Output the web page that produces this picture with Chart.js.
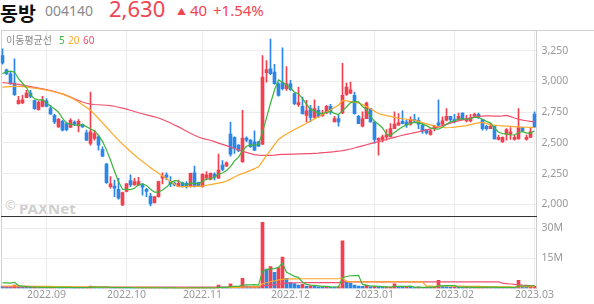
<!DOCTYPE html>
<html>
<head>
<meta charset="utf-8">
<script src="https://cdn.jsdelivr.net/npm/chart.js@4.4.0/dist/chart.umd.min.js"></script>
<style>
  body { margin: 0; width: 594px; height: 304px; overflow: hidden; background: #fff; position: relative; font-family: 'Noto Sans', 'Noto Sans CJK KR', sans-serif; }
  .t { position: absolute; white-space: nowrap; line-height: 1; }
  .line { position: absolute; }
  .box { position: absolute; left: 0; width: 594px; }
</style>
</head>
<body>
<div class="t" style="left:0;top:-2px;font:bold 19.5px 'Noto Sans CJK KR';color:#111">동방</div>
<div class="t" style="left:45px;top:4px;font-size:14px;color:#8a8a8a">004140</div>
<div class="t" style="left:109px;top:-3px;font-size:22px;color:#f04452">2,630</div>
<div class="t" style="left:177px;top:7px;font-size:9px;color:#f04452">▲</div>
<div class="t" style="left:190px;top:3px;font-size:15px;color:#f04452">40</div>
<div class="t" style="left:213px;top:3px;font-size:15px;color:#f04452">+1.54%</div>

<div class="line" style="left:1px;top:30px;width:593px;height:1px;background:#d0d0d0"></div>
<div class="line" style="left:1px;top:30px;width:1px;height:258px;background:#d0d0d0"></div>

<div class="t" style="left:5px;top:199px;font-size:13px;color:#cfcfcf">©</div>
<div class="t" style="left:19px;top:198px;font:bold 15px 'Noto Sans';color:#cfcfcf">PAXNet</div>

<div class="box" style="top:31px;height:185px"><canvas id="price" width="594" height="185"></canvas></div>
<div class="line" style="left:1px;top:216px;width:536px;height:1px;background:#333"></div>
<div class="box" style="top:217px;height:87px"><canvas id="volume" width="594" height="87"></canvas></div>

<div class="t" style="left:6px;top:35px;font-size:10px;font-family:'Noto Sans CJK KR';color:#8a8a8a">이동평균선</div>
<div class="t" style="left:59px;top:35px;font-size:10px;color:#3bb53b">5</div>
<div class="t" style="left:68px;top:35px;font-size:10px;color:#ffa726">20</div>
<div class="t" style="left:83px;top:35px;font-size:10px;color:#f0506e">60</div>

<script>
// 거래일
const dates = [
  '2022.08.17','2022.08.18','2022.08.19','2022.08.22','2022.08.23','2022.08.24','2022.08.25','2022.08.26','2022.08.29','2022.08.30','2022.08.31',
  '2022.09.01','2022.09.02','2022.09.05','2022.09.06','2022.09.07','2022.09.08','2022.09.13','2022.09.14','2022.09.15','2022.09.16',
  '2022.09.19','2022.09.20','2022.09.21','2022.09.22','2022.09.23','2022.09.26','2022.09.27','2022.09.28','2022.09.29','2022.09.30',
  '2022.10.04','2022.10.05','2022.10.06','2022.10.07','2022.10.11','2022.10.12','2022.10.13','2022.10.14','2022.10.17','2022.10.18',
  '2022.10.19','2022.10.20','2022.10.21','2022.10.24','2022.10.25','2022.10.26','2022.10.27','2022.10.28','2022.10.31',
  '2022.11.01','2022.11.02','2022.11.03','2022.11.04','2022.11.07','2022.11.08','2022.11.09','2022.11.10','2022.11.11','2022.11.14',
  '2022.11.15','2022.11.16','2022.11.17','2022.11.18','2022.11.21','2022.11.22','2022.11.23','2022.11.24','2022.11.25','2022.11.28',
  '2022.11.29','2022.11.30',
  '2022.12.01','2022.12.02','2022.12.05','2022.12.06','2022.12.07','2022.12.08','2022.12.09','2022.12.12','2022.12.13','2022.12.14',
  '2022.12.15','2022.12.16','2022.12.19','2022.12.20','2022.12.21','2022.12.22','2022.12.23','2022.12.26','2022.12.27','2022.12.28',
  '2022.12.29',
  '2023.01.02','2023.01.03','2023.01.04','2023.01.05','2023.01.06','2023.01.09','2023.01.10','2023.01.11','2023.01.12','2023.01.13',
  '2023.01.16','2023.01.17','2023.01.18','2023.01.19','2023.01.20','2023.01.25','2023.01.26','2023.01.27','2023.01.30','2023.01.31',
  '2023.02.01','2023.02.02','2023.02.03','2023.02.06','2023.02.07','2023.02.08','2023.02.09','2023.02.10','2023.02.13','2023.02.14',
  '2023.02.15','2023.02.16','2023.02.17','2023.02.20','2023.02.21','2023.02.22','2023.02.23','2023.02.24','2023.02.27','2023.02.28',
  '2023.03.02'
];

const opens = [
  3210,3094,3062,2986,2819,2824,2868,2905,2846,2770,
  2797,2841,2778,2724,2630,2676,2657,2625,2670,2638,
  2649,2581,2495,2536,2549,2446,2328,2144,2149,2122,
  1996,2104,2193,2158,2158,2158,2122,2068,2014,2063,
  2212,2239,2185,2171,2144,2176,2171,2144,2257,2176,
  2144,2212,2203,2247,2212,2320,2311,2571,2544,2482,
  2346,2538,2522,2508,2508,2490,3070,3102,3076,2981,
  2990,2940,2981,2900,2811,2797,2724,2778,2706,2765,
  2722,2743,2797,2670,2697,2743,2895,2905,2886,2716,
  2635,2697,2778,2670,2522,2527,2549,2549,2616,2643,
  2676,2670,2652,2689,2684,2643,2608,2568,2616,2662,
  2652,2684,2716,2689,2684,2743,2679,2679,2716,2733,
  2689,2635,2616,2635,2527,2508,2571,2571,2527,2533,
  2625,2527,2544,2735
];
const highs = [
  3265,3100,3075,3184,2878,2886,2927,2927,2846,2840,
  2878,2860,2806,2733,2700,2684,2670,2697,2680,2689,
  2655,2603,2913,2603,2563,2468,2333,2225,2198,2212,
  2100,2170,2239,2212,2220,2171,2131,2090,2063,2190,
  2257,2257,2225,2180,2198,2180,2185,2255,2311,2180,
  2250,2266,2257,2257,2409,2355,2346,2670,2549,2485,
  2765,2549,2527,2598,2512,3210,3170,3345,3138,2990,
  3273,3121,3008,2905,2954,2873,2846,2806,2851,2797,
  2765,2806,2814,2716,2724,3148,2986,2994,2913,2724,
  2752,2832,2780,2672,2540,2563,2608,2657,2752,2738,
  2760,2684,2711,2733,2706,2657,2608,2608,2643,2851,
  2711,2778,2716,2733,2743,2745,2724,2733,2743,2743,
  2690,2643,2657,2637,2563,2549,2616,2625,2563,2778,
  2627,2563,2625,2752
];
const lows = [
  3140,3055,2976,2886,2815,2819,2868,2868,2773,2765,
  2792,2792,2733,2657,2625,2598,2598,2625,2640,2590,
  2625,2517,2482,2522,2441,2387,2171,2131,2063,2041,
  1990,2100,2144,2155,2152,2074,2063,1987,2010,2058,
  2166,2198,2144,2150,2144,2140,2131,2140,2140,2145,
  2140,2198,2198,2198,2210,2274,2308,2392,2414,2428,
  2340,2508,2463,2436,2470,2485,2994,3055,2976,2880,
  2930,2927,2927,2811,2797,2733,2670,2670,2700,2706,
  2716,2738,2733,2670,2635,2738,2886,2900,2733,2657,
  2630,2697,2668,2495,2400,2508,2522,2549,2616,2643,
  2655,2625,2643,2670,2616,2576,2571,2563,2598,2625,
  2643,2679,2670,2662,2684,2687,2670,2670,2716,2698,
  2603,2603,2616,2530,2522,2503,2522,2527,2522,2530,
  2590,2522,2544,2625
];
const closes = [
  3150,3062,2981,2892,2846,2851,2905,2878,2778,2832,
  2851,2797,2733,2670,2692,2603,2608,2684,2649,2676,
  2630,2522,2590,2576,2482,2392,2176,2166,2131,2050,
  2095,2166,2158,2185,2185,2139,2104,2004,2063,2185,
  2230,2220,2166,2158,2171,2144,2144,2252,2144,2149,
  2244,2239,2252,2220,2279,2284,2338,2409,2455,2436,
  2538,2522,2468,2441,2473,3035,3097,3062,2981,2886,
  2940,2981,2932,2819,2827,2738,2760,2706,2778,2716,
  2738,2797,2752,2697,2670,2886,2954,2932,2738,2657,
  2697,2824,2670,2527,2536,2549,2568,2616,2652,2662,
  2657,2643,2689,2679,2652,2598,2581,2598,2635,2643,
  2679,2716,2689,2670,2716,2689,2698,2706,2733,2706,
  2616,2616,2635,2533,2544,2544,2608,2590,2544,2625,
  2598,2544,2590,2630
];

// 이동평균선
const ma5 = [
  3063,3078,3084,3076,3022,2985,2950,2890,2860,2849,
  2849,2827,2798,2777,2749,2699,2661,2651,2647,2644,
  2649,2632,2613,2599,2560,2512,2443,2358,2269,2183,
  2124,2122,2120,2131,2158,2167,2154,2123,2099,2099,
  2117,2140,2173,2192,2189,2172,2157,2174,2171,2167,
  2187,2206,2206,2221,2247,2255,2275,2306,2353,2384,
  2435,2472,2484,2481,2488,2588,2703,2822,2930,3012,
  2993,2970,2944,2912,2900,2859,2815,2770,2762,2740,
  2740,2747,2756,2740,2731,2760,2792,2828,2836,2833,
  2796,2770,2717,2675,2651,2621,2570,2559,2584,2609,
  2631,2646,2661,2666,2664,2652,2640,2622,2613,2611,
  2627,2654,2672,2679,2694,2696,2692,2696,2708,2706,
  2692,2675,2661,2621,2589,2574,2573,2564,2566,2582,
  2593,2580,2580,2597
];
const ma20 = [
  2954,2956,2958,2960,2960,2958,2955,2950,2946,2941,
  2935,2929,2922,2914,2906,2896,2884,2870,2853,2833,
  2810,2787,2765,2732,2698,2662,2627,2592,2557,2522,
  2490,2460,2430,2401,2374,2348,2323,2298,2275,2253,
  2230,2208,2186,2165,2144,2144,2144,2145,2146,2146,
  2150,2155,2160,2166,2172,2178,2190,2205,2222,2239,
  2250,2262,2276,2290,2305,2350,2398,2441,2486,2528,
  2552,2572,2590,2608,2625,2642,2660,2678,2695,2711,
  2730,2750,2768,2788,2806,2846,2842,2836,2830,2825,
  2812,2795,2778,2758,2739,2730,2722,2715,2708,2700,
  2696,2692,2688,2684,2675,2664,2655,2646,2638,2630,
  2625,2623,2625,2628,2632,2636,2640,2648,2656,2663,
  2666,2656,2648,2644,2640,2638,2636,2634,2632,2630,
  2628,2627,2626,2625
];
const ma60 = [
  2990,2987,2984,2980,2976,2970,2964,2958,2952,2946,
  2940,2934,2926,2918,2908,2898,2886,2872,2858,2845,
  2832,2822,2815,2812,2810,2808,2806,2803,2798,2790,
  2782,2774,2765,2755,2745,2737,2728,2720,2712,2702,
  2690,2676,2662,2646,2630,2612,2595,2578,2562,2548,
  2537,2528,2521,2510,2498,2488,2478,2466,2454,2443,
  2432,2422,2413,2405,2400,2398,2398,2399,2401,2404,
  2406,2407,2408,2409,2410,2411,2412,2413,2415,2417,
  2420,2422,2425,2428,2432,2437,2443,2450,2458,2467,
  2476,2485,2494,2502,2510,2518,2527,2536,2545,2554,
  2562,2569,2576,2583,2590,2598,2606,2614,2622,2630,
  2640,2650,2660,2670,2678,2686,2693,2700,2708,2716,
  2718,2719,2719,2718,2718,2720,2724,2714,2702,2692,
  2685,2680,2675,2671
];

// 거래량 (백만 주)
const volumesM = [
  0.9,0.8,0.7,1.6,0.9,0.7,0.6,0.5,0.6,0.4,
  0.5,0.4,0.5,0.6,0.5,0.4,0.5,0.4,0.3,0.4,
  0.3,0.5,1.2,0.6,0.5,0.4,0.6,0.4,0.3,0.5,
  0.4,0.3,0.3,0.2,0.3,0.2,0.3,0.4,0.3,0.4,
  0.3,0.2,0.3,0.2,0.2,0.2,0.3,0.4,0.5,0.2,
  0.3,0.3,0.2,0.2,1.6,0.4,0.3,2.3,0.6,0.4,
  5.0,1.2,0.6,0.9,0.5,32.8,9.6,10.8,8.0,10.4,
  15.6,5.0,3.0,2.4,1.6,2.0,1.2,1.4,1.1,0.8,
  0.6,1.0,0.7,0.6,0.8,23.6,3.6,2.6,1.6,1.2,
  1.0,1.5,0.9,1.0,0.8,0.5,0.6,0.7,2.3,0.8,
  0.6,0.7,0.5,0.4,0.6,0.5,0.7,0.5,0.6,4.0,
  0.9,0.8,0.5,0.7,0.6,0.5,0.6,0.4,0.5,0.6,
  0.7,0.5,0.6,0.5,0.4,0.5,0.4,0.5,0.3,4.0,
  0.8,0.5,0.6,1.0
];
const volMa5M = [
  2.7,2.7,2.6,3.0,1.4,1.1,0.9,0.8,0.7,0.6,
  0.5,0.5,0.5,0.5,0.5,0.5,0.5,0.5,0.4,0.4,
  0.4,0.4,0.5,0.6,0.6,0.6,0.7,0.5,0.4,0.4,
  0.4,0.4,0.4,0.3,0.3,0.3,0.3,0.3,0.3,0.3,
  0.3,0.3,0.3,0.3,0.2,0.2,0.2,0.3,0.3,0.3,
  0.3,0.3,0.3,0.2,0.5,0.5,0.5,0.9,1.0,1.0,
  1.7,1.8,1.8,1.9,1.6,8.4,9.3,9.6,9.8,10.5,
  12.5,8.0,7.0,6.0,5.5,3.0,2.0,1.7,1.5,1.3,
  1.0,1.0,0.8,0.7,0.7,5.3,5.9,6.3,6.4,6.5,
  2.0,1.6,1.2,1.1,1.0,0.9,0.8,0.7,1.0,1.0,
  1.0,1.0,1.1,0.6,0.6,0.5,0.5,0.6,0.6,1.3,
  1.3,1.4,1.4,1.4,0.7,0.6,0.6,0.6,0.5,0.5,
  0.6,0.6,0.6,0.6,0.5,0.5,0.5,0.5,0.4,1.1,
  1.2,1.2,1.2,1.4
];
const volMa20M = [
  1.2,1.2,1.2,1.2,1.1,1.1,1.1,1.0,1.0,1.0,
  1.0,1.0,1.0,0.9,0.9,0.9,0.9,0.8,0.8,0.7,
  0.6,0.6,0.6,0.6,0.5,0.5,0.5,0.5,0.5,0.5,
  0.5,0.5,0.5,0.5,0.5,0.5,0.5,0.5,0.5,0.4,
  0.4,0.4,0.4,0.3,0.3,0.3,0.3,0.3,0.3,0.3,
  0.3,0.3,0.3,0.3,0.4,0.4,0.4,0.5,0.5,0.5,
  0.7,0.7,0.7,0.8,0.8,2.3,2.8,3.3,3.7,4.2,
  4.5,4.6,4.7,4.7,4.7,4.8,4.8,4.8,4.8,4.8,
  4.8,4.8,4.8,4.8,4.8,5.1,3.5,3.4,3.3,3.3,
  3.3,3.2,3.3,3.3,3.2,3.2,3.3,3.3,3.4,3.3,
  3.3,3.3,3.2,3.2,3.3,3.2,1.1,1.1,1.0,1.2,
  1.2,1.2,1.1,1.1,1.1,1.1,1.0,1.0,1.0,1.0,
  0.9,0.9,0.8,0.8,0.8,0.8,0.8,0.8,0.7,0.9,
  0.9,0.9,0.9,0.9
];
const volMa60M = [
  0.8,0.8,0.8,0.8,0.8,0.8,0.8,0.8,0.8,0.8,
  0.8,0.8,0.8,0.8,0.8,0.8,0.8,0.7,0.7,0.7,
  0.7,0.7,0.7,0.7,0.7,0.7,0.7,0.7,0.7,0.7,
  0.7,0.7,0.7,0.7,0.7,0.7,0.6,0.6,0.6,0.6,
  0.6,0.6,0.6,0.6,0.6,0.6,0.6,0.6,0.6,0.6,
  0.6,0.6,0.6,0.6,0.6,0.6,0.6,0.7,0.7,0.7,
  0.8,0.8,0.8,0.8,0.8,1.3,1.5,1.6,1.8,2.0,
  2.4,2.6,2.7,2.8,2.8,2.8,2.9,2.9,2.9,2.9,
  2.9,2.9,2.9,2.9,2.9,3.2,3.2,3.2,3.2,3.2,
  3.2,3.2,3.2,3.2,3.2,3.2,3.2,3.2,3.2,3.2,
  3.2,3.2,3.2,3.2,3.2,3.2,3.2,3.2,3.2,3.2,
  3.2,3.2,3.2,3.2,3.2,3.2,3.2,3.2,3.2,3.2,
  3.2,3.2,3.2,3.2,3.2,2.6,2.4,2.2,2.0,1.9,
  1.6,1.5,1.4,1.3
];

const priceTicks = [2000, 2250, 2500, 2750, 3000, 3250];
const volumeTicks = [15, 30];
const monthTicks = ['2022.09', '2022.10', '2022.11', '2022.12', '2023.01', '2023.02', '2023.03'];

const RED = '#f2404f';
const BLUE = '#2b86e8';
const GREEN = '#3bb53b';
const ORANGE = '#ffa726';
const PINK = '#f0506e';
const GRID = '#ececec';

Chart.defaults.font.family = "'Noto Sans', sans-serif";
Chart.defaults.color = '#999';

// 월 첫 거래일이면 'YYYY.MM' 반환
function monthLabel(i) {
  const m = dates[i].slice(0, 7);
  if (monthTicks.includes(m) && (i === 0 || dates[i - 1].slice(0, 7) !== m)) return m;
  return '';
}

const candleColors = closes.map((c, i) => c >= opens[i] ? RED : BLUE);
const wicks = lows.map((l, i) => [l, highs[i]]);
const bodies = opens.map((o, i) => [Math.min(o, closes[i]), Math.max(o, closes[i])]);
const volColors = volumesM.map((v, i) => (i > 0 && v > volumesM[i - 1]) ? RED : BLUE);

function maLine(data, color, order) {
  return { type: 'line', data: data, borderColor: color, borderWidth: 1.2, pointRadius: 0, tension: 0, order: order };
}

const xGrid = {
  offset: false,
  drawTicks: false,
  color: ctx => monthLabel(ctx.index) ? GRID : 'rgba(0,0,0,0)'
};

// 오른쪽 축: 폭 고정, 위아래 라벨 여백 없음
function fitRightAxis(axis) {
  axis.width = 57.5;
  axis.paddingTop = 0;
  axis.paddingBottom = 0;
}

// 가격 차트
new Chart(document.getElementById('price'), {
  type: 'bar',
  data: {
    labels: dates,
    datasets: [
      maLine(ma5, GREEN, 0),
      maLine(ma20, ORANGE, 0),
      maLine(ma60, PINK, 0),
      { data: bodies, backgroundColor: candleColors, barThickness: 3, minBarLength: 1, grouped: false, order: 1 },
      { data: wicks, backgroundColor: candleColors, barThickness: 1, grouped: false, order: 2 }
    ]
  },
  options: {
    responsive: false,
    animation: false,
    layout: { padding: { left: 0.5, right: 0, top: 0, bottom: 0 } },
    plugins: { legend: { display: false }, tooltip: { enabled: false } },
    scales: {
      x: {
        offset: true,
        grid: xGrid,
        border: { display: false },
        ticks: { display: false }
      },
      y: {
        position: 'right',
        min: 1905,
        max: 3410,
        afterBuildTicks: axis => { axis.ticks = priceTicks.map(v => ({ value: v })); },
        afterFit: fitRightAxis,
        grid: { color: GRID, drawTicks: false },
        border: { color: '#cfcfcf' },
        ticks: { padding: 5, font: { size: 10.5 }, callback: v => v.toLocaleString('en-US') }
      }
    }
  }
});

// 거래량 차트
new Chart(document.getElementById('volume'), {
  type: 'bar',
  data: {
    labels: dates,
    datasets: [
      maLine(volMa5M, GREEN, 0),
      maLine(volMa20M, ORANGE, 0),
      maLine(volMa60M, PINK, 0),
      { data: volumesM, backgroundColor: volColors, barThickness: 3, grouped: false, order: 1 }
    ]
  },
  options: {
    responsive: false,
    animation: false,
    layout: { padding: { left: 0.5, right: 0, top: 0, bottom: 3 } },
    plugins: { legend: { display: false }, tooltip: { enabled: false } },
    scales: {
      x: {
        offset: true,
        grid: xGrid,
        border: { display: false },
        ticks: { autoSkip: false, maxRotation: 0, minRotation: 0, padding: 0, font: { size: 10.5 }, callback: (v, i) => monthLabel(i) }
      },
      y: {
        position: 'right',
        min: 0,
        max: 35.5,
        afterBuildTicks: axis => { axis.ticks = volumeTicks.map(v => ({ value: v })); },
        afterFit: fitRightAxis,
        grid: { color: GRID, drawTicks: false },
        border: { color: '#cfcfcf' },
        ticks: { padding: 5, font: { size: 10.5 }, callback: v => v + 'M' }
      }
    }
  }
});
</script>
</body>
</html>
